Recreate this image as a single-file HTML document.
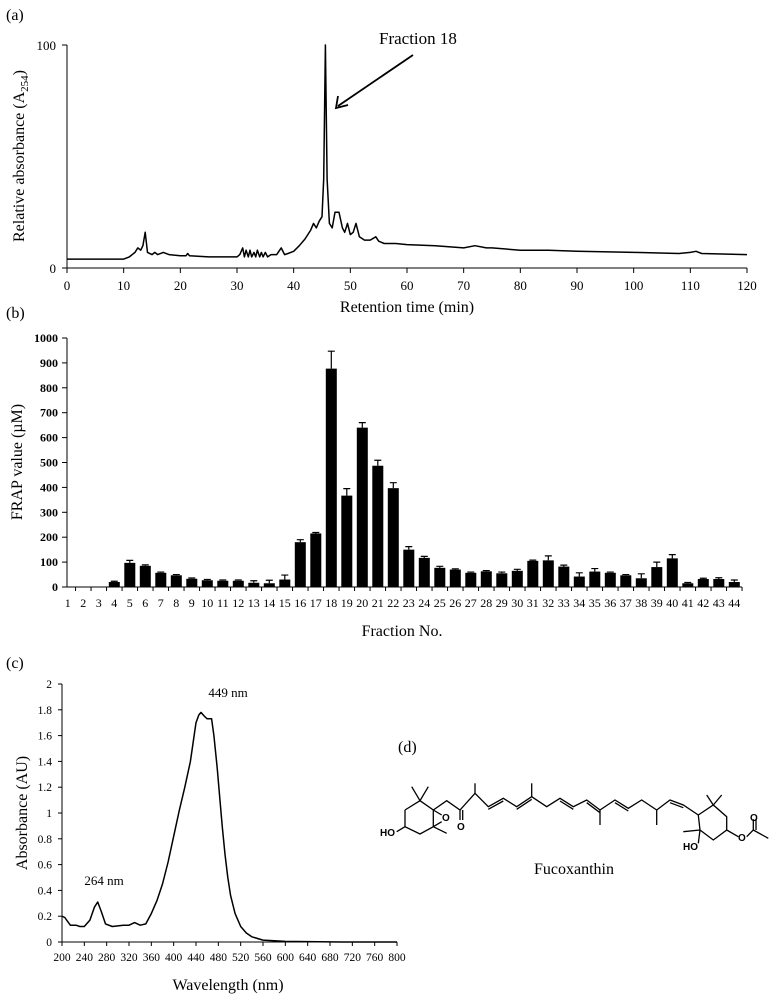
<!DOCTYPE html>
<html><head><meta charset="utf-8"><style>
body{margin:0;background:#fff}
svg{display:block;font-family:"Liberation Serif",serif}
</style></head><body>
<svg id="fig" width="775" height="1000" viewBox="0 0 775 1000">
<text x="6" y="20" font-size="16">(a)</text>
<text x="6" y="318" font-size="16">(b)</text>
<text x="6" y="668" font-size="16">(c)</text>
<text x="398" y="752" font-size="16">(d)</text>
<g id="ga"></g>
<g id="gb"></g>
<g id="gc"></g>
<g id="gd" stroke="#000" stroke-width="1.3" fill="none"></g>
</svg>
<script>
// ---- Panel a data ----
const chromTime = [0,10,11,12,12.5,13,13.4,13.8,14.2,15,15.5,16,17,18,20,21,21.3,21.6,25,30,30.5,31,31.3,31.6,32,32.3,32.6,33,33.3,33.6,34,34.3,34.6,35,35.4,36,37,37.8,38.4,39,40,41,42,43,43.5,44,44.5,45,45.3,45.6,45.9,46.3,46.8,47.3,48,48.6,49,49.5,50,50.5,51,51.6,52.5,53.5,54.5,55,56,58,60,65,70,72,74,75,80,85,90,100,108,110,111,112,120];
const chromVal = [4,4,5,7,9,8,10,16,7,6,7,6,7,6,5.5,5.5,6.5,5.5,5,5,6,9,5,8,5,8,5,7,5,8,5,7,5,7,5,6,6,9,6,6.5,7.5,10,13,17,20,18,21,23,40,100,40,20,18,25,25,18,16,20,15,16,20,14,12.5,12.5,14,12,11,11,10.5,10,9,10,9,9,8,8,7.5,7,6.5,7,7.5,6.5,6];
const chromXTicks = [0,10,20,30,40,50,60,70,80,90,100,110,120];
const chromYTicks = [0,100];
// ---- Panel b data ----
const fractions = Array.from({length:44},(_,i)=>String(i+1));
const frapValues = [0,0,0,20,97,85,57,47,33,27,25,25,17,15,30,180,215,877,367,640,487,397,150,117,77,70,57,63,55,65,105,107,82,42,62,57,47,35,80,115,15,32,32,20];
const frapErrors = [0,0,0,3,10,4,3,3,3,3,3,3,8,12,18,10,4,70,28,20,22,22,12,6,6,3,3,3,5,6,3,18,6,15,12,3,3,18,20,15,3,3,5,8];
const frapYTicks = [0,100,200,300,400,500,600,700,800,900,1000];
// ---- Panel c data ----
const wavelength = [200,205,210,215,225,232,240,250,258,264,270,278,290,310,320,330,340,350,360,370,380,390,400,410,420,430,435,440,445,449,455,460,468,472,478,482,487,492,497,502,510,520,530,540,560,600,700,800];
const absorbance = [0.2,0.19,0.16,0.13,0.13,0.12,0.12,0.17,0.27,0.31,0.24,0.14,0.12,0.13,0.13,0.15,0.13,0.14,0.22,0.32,0.45,0.62,0.82,1.02,1.2,1.4,1.55,1.7,1.76,1.78,1.75,1.73,1.73,1.6,1.35,1.15,0.9,0.68,0.5,0.36,0.22,0.12,0.07,0.04,0.015,0.005,0,0];
const specXTicks = [200,240,280,320,360,400,440,480,520,560,600,640,680,720,760,800];
const specYTicks = [0,0.2,0.4,0.6,0.8,1,1.2,1.4,1.6,1.8,2];

const NS="http://www.w3.org/2000/svg";
function mk(parent,tag,attrs,text){const e=document.createElementNS(NS,tag);for(const k in attrs)e.setAttribute(k,attrs[k]);if(text!==undefined)e.textContent=text;parent.appendChild(e);return e;}

// Panel a
(function(){
const g=document.getElementById('ga');
const x=t=>67+t*(747-67)/120, y=v=>268-v*(268-45)/100;
let l=mk(g,'line',{x1:67,y1:45,x2:67,y2:268,stroke:'#000','stroke-width':1});

l=mk(g,'line',{x1:67,y1:268,x2:747,y2:268,stroke:'#000','stroke-width':1});

chromXTicks.forEach(t=>{mk(g,'line',{x1:x(t),y1:268,x2:x(t),y2:273,stroke:'#000'});
 const tx=mk(g,'text',{x:x(t),y:290,'font-size':13,'text-anchor':'middle'},t);
 });
chromYTicks.forEach(v=>{mk(g,'line',{x1:62,y1:y(v),x2:67,y2:y(v),stroke:'#000'});
 const tx=mk(g,'text',{x:56,y:y(v)+5,'font-size':13,'text-anchor':'end'},v);
 });
const p=mk(g,'polyline',{points:chromTime.map((t,i)=>x(t).toFixed(1)+','+y(chromVal[i]).toFixed(1)).join(' '),fill:'none',stroke:'#000','stroke-width':1.5,'stroke-linejoin':'round'});

let t=mk(g,'text',{x:407,y:312,'font-size':16,'text-anchor':'middle'},'Retention time (min)');

t=mk(g,'text',{transform:'translate(24,156) rotate(-90)','font-size':16,'text-anchor':'middle'});
t.innerHTML='Relative absorbance (A<tspan font-size="11" dy="4">254</tspan><tspan dy="-4">)</tspan>';

t=mk(g,'text',{x:379,y:44,'font-size':17},'Fraction 18');

const a=mk(g,'line',{x1:413,y1:55,x2:338,y2:106,stroke:'#000','stroke-width':1.8});

mk(g,'polyline',{points:'338,96 336,108 348,105',fill:'none',stroke:'#000','stroke-width':1.8});
})();

// Panel b
(function(){
const g=document.getElementById('gb');
const base=587, top=338, y=v=>base-v*(base-top)/1000, cx=i=>67.8+15.5*i;
mk(g,'line',{x1:67,y1:top,x2:67,y2:base,stroke:'#000'});
mk(g,'line',{x1:67,y1:base,x2:742,y2:base,stroke:'#000'});
frapYTicks.forEach(v=>{mk(g,'line',{x1:62,y1:y(v),x2:67,y2:y(v),stroke:'#000'});
 const tx=mk(g,'text',{x:58,y:y(v)+4,'font-size':12,'font-weight':'bold','text-anchor':'end'},v);
 });
fractions.forEach((f,i)=>{
 mk(g,'line',{x1:cx(i)+7.75,y1:base,x2:cx(i)+7.75,y2:base+4,stroke:'#000'});
 const v=frapValues[i],e=frapErrors[i];
 if(v>0){
  const r=mk(g,'rect',{x:cx(i)-5.5,y:y(v),width:11,height:base-y(v),fill:'#000'});
  
  const eb=mk(g,'path',{d:`M${cx(i)},${y(v)}V${y(v+e)}M${cx(i)-3.5},${y(v+e)}H${cx(i)+3.5}`,stroke:'#000','stroke-width':1.2});
  
 }
 const tx=mk(g,'text',{x:cx(i),y:607,'font-size':12,'text-anchor':'middle'},f);
 
});
let t=mk(g,'text',{x:402,y:636,'font-size':16,'text-anchor':'middle'},'Fraction No.');

t=mk(g,'text',{transform:'translate(22,462) rotate(-90)','font-size':16,'text-anchor':'middle'},'FRAP value (µM)');

})();

// Panel c
(function(){
const g=document.getElementById('gc');
const x=w=>62+(w-200)*(397-62)/600, y=v=>942-v*(942-684)/2;
mk(g,'line',{x1:62,y1:684,x2:62,y2:942,stroke:'#000'});
mk(g,'line',{x1:62,y1:942,x2:397,y2:942,stroke:'#000'});
specXTicks.forEach(w=>{mk(g,'line',{x1:x(w),y1:942,x2:x(w),y2:946,stroke:'#000'});
 const tx=mk(g,'text',{x:x(w),y:961,'font-size':11.5,'text-anchor':'middle'},w);
 });
specYTicks.forEach(v=>{mk(g,'line',{x1:58,y1:y(v),x2:62,y2:y(v),stroke:'#000'});
 const tx=mk(g,'text',{x:52,y:y(v)+4,'font-size':11.5,'text-anchor':'end'},v);
 });
const p=mk(g,'polyline',{points:wavelength.map((w,i)=>x(w).toFixed(1)+','+y(absorbance[i]).toFixed(1)).join(' '),fill:'none',stroke:'#000','stroke-width':1.5,'stroke-linejoin':'round'});

let t=mk(g,'text',{x:228,y:990,'font-size':16,'text-anchor':'middle'},'Wavelength (nm)');

t=mk(g,'text',{transform:'translate(27,813) rotate(-90)','font-size':16,'text-anchor':'middle'},'Absorbance (AU)');

t=mk(g,'text',{x:228,y:697,'font-size':13,'text-anchor':'middle'},'449 nm');

t=mk(g,'text',{x:104,y:885,'font-size':13,'text-anchor':'middle'},'264 nm');

})();

// Panel d structure
(function(){
const g=document.getElementById('gd');
const P=(x,y)=>(x/3+370).toFixed(1)+','+(y/3+730).toFixed(1);
const lines=[
 [[105,240],[150,212],[190,240],[190,290],[150,312],[105,290],[105,240]],
 [[150,212],[125,170]],[[150,212],[175,170]],
 [[190,290],[230,310]],[[190,240],[215,255]],[[190,290],[215,275]],
 [[105,290],[80,305]],
 [[190,240],[230,212],[270,240],[315,190],[355,230],[400,205],[440,230],[485,200],[530,230],[570,205],[610,230],[650,210],[690,240],[735,210],[775,235],[815,210],[860,240],[900,210],[940,225],[985,255]],
 [[270,240],[270,270]],[[315,190],[315,160]],[[485,200],[485,160]],[[690,240],[690,285]],[[860,240],[860,285]],
 [[985,255],[1030,225],[1070,260],[1070,300],[1030,330],[990,300],[985,255]],
 [[1030,225],[1010,195]],[[1030,225],[1055,195]],
 [[990,300],[940,305]],[[990,300],[985,340]],
 [[1070,300],[1105,320]],[[1130,320],[1150,300],[1150,268]],[[1150,300],[1195,325]]
];
lines.forEach(pts=>{const l=mk(g,'polyline',{points:pts.map(p=>P(p[0],p[1])).join(' ')});
 });
const dbl=[[[278,240],[278,270]],[[355,238],[400,213]],[[440,238],[485,208]],[[570,213],[610,238]],[[650,218],[690,248]],[[735,218],[775,243]],[[900,218],[940,233]],[[1158,300],[1158,268]]];
dbl.forEach(s=>{const l=mk(g,'polyline',{points:s.map(p=>P(p[0],p[1])).join(' ')});
 });
const labs=[['O',442,821],['O',457,830],['HO',380,836],['HO',683,850],['O',738,841],['O',750,821]];
labs.forEach(([s,x,y])=>{const t=mk(g,'text',{x:x,y:y,'font-size':10,'font-family':'Liberation Sans, sans-serif','font-weight':'bold',fill:'#000',stroke:'none'},s);
 });
const t=mk(g,'text',{x:574,y:874,'font-size':16,'text-anchor':'middle',fill:'#000',stroke:'none'},'Fucoxanthin');

})();
</script>
</body></html>
